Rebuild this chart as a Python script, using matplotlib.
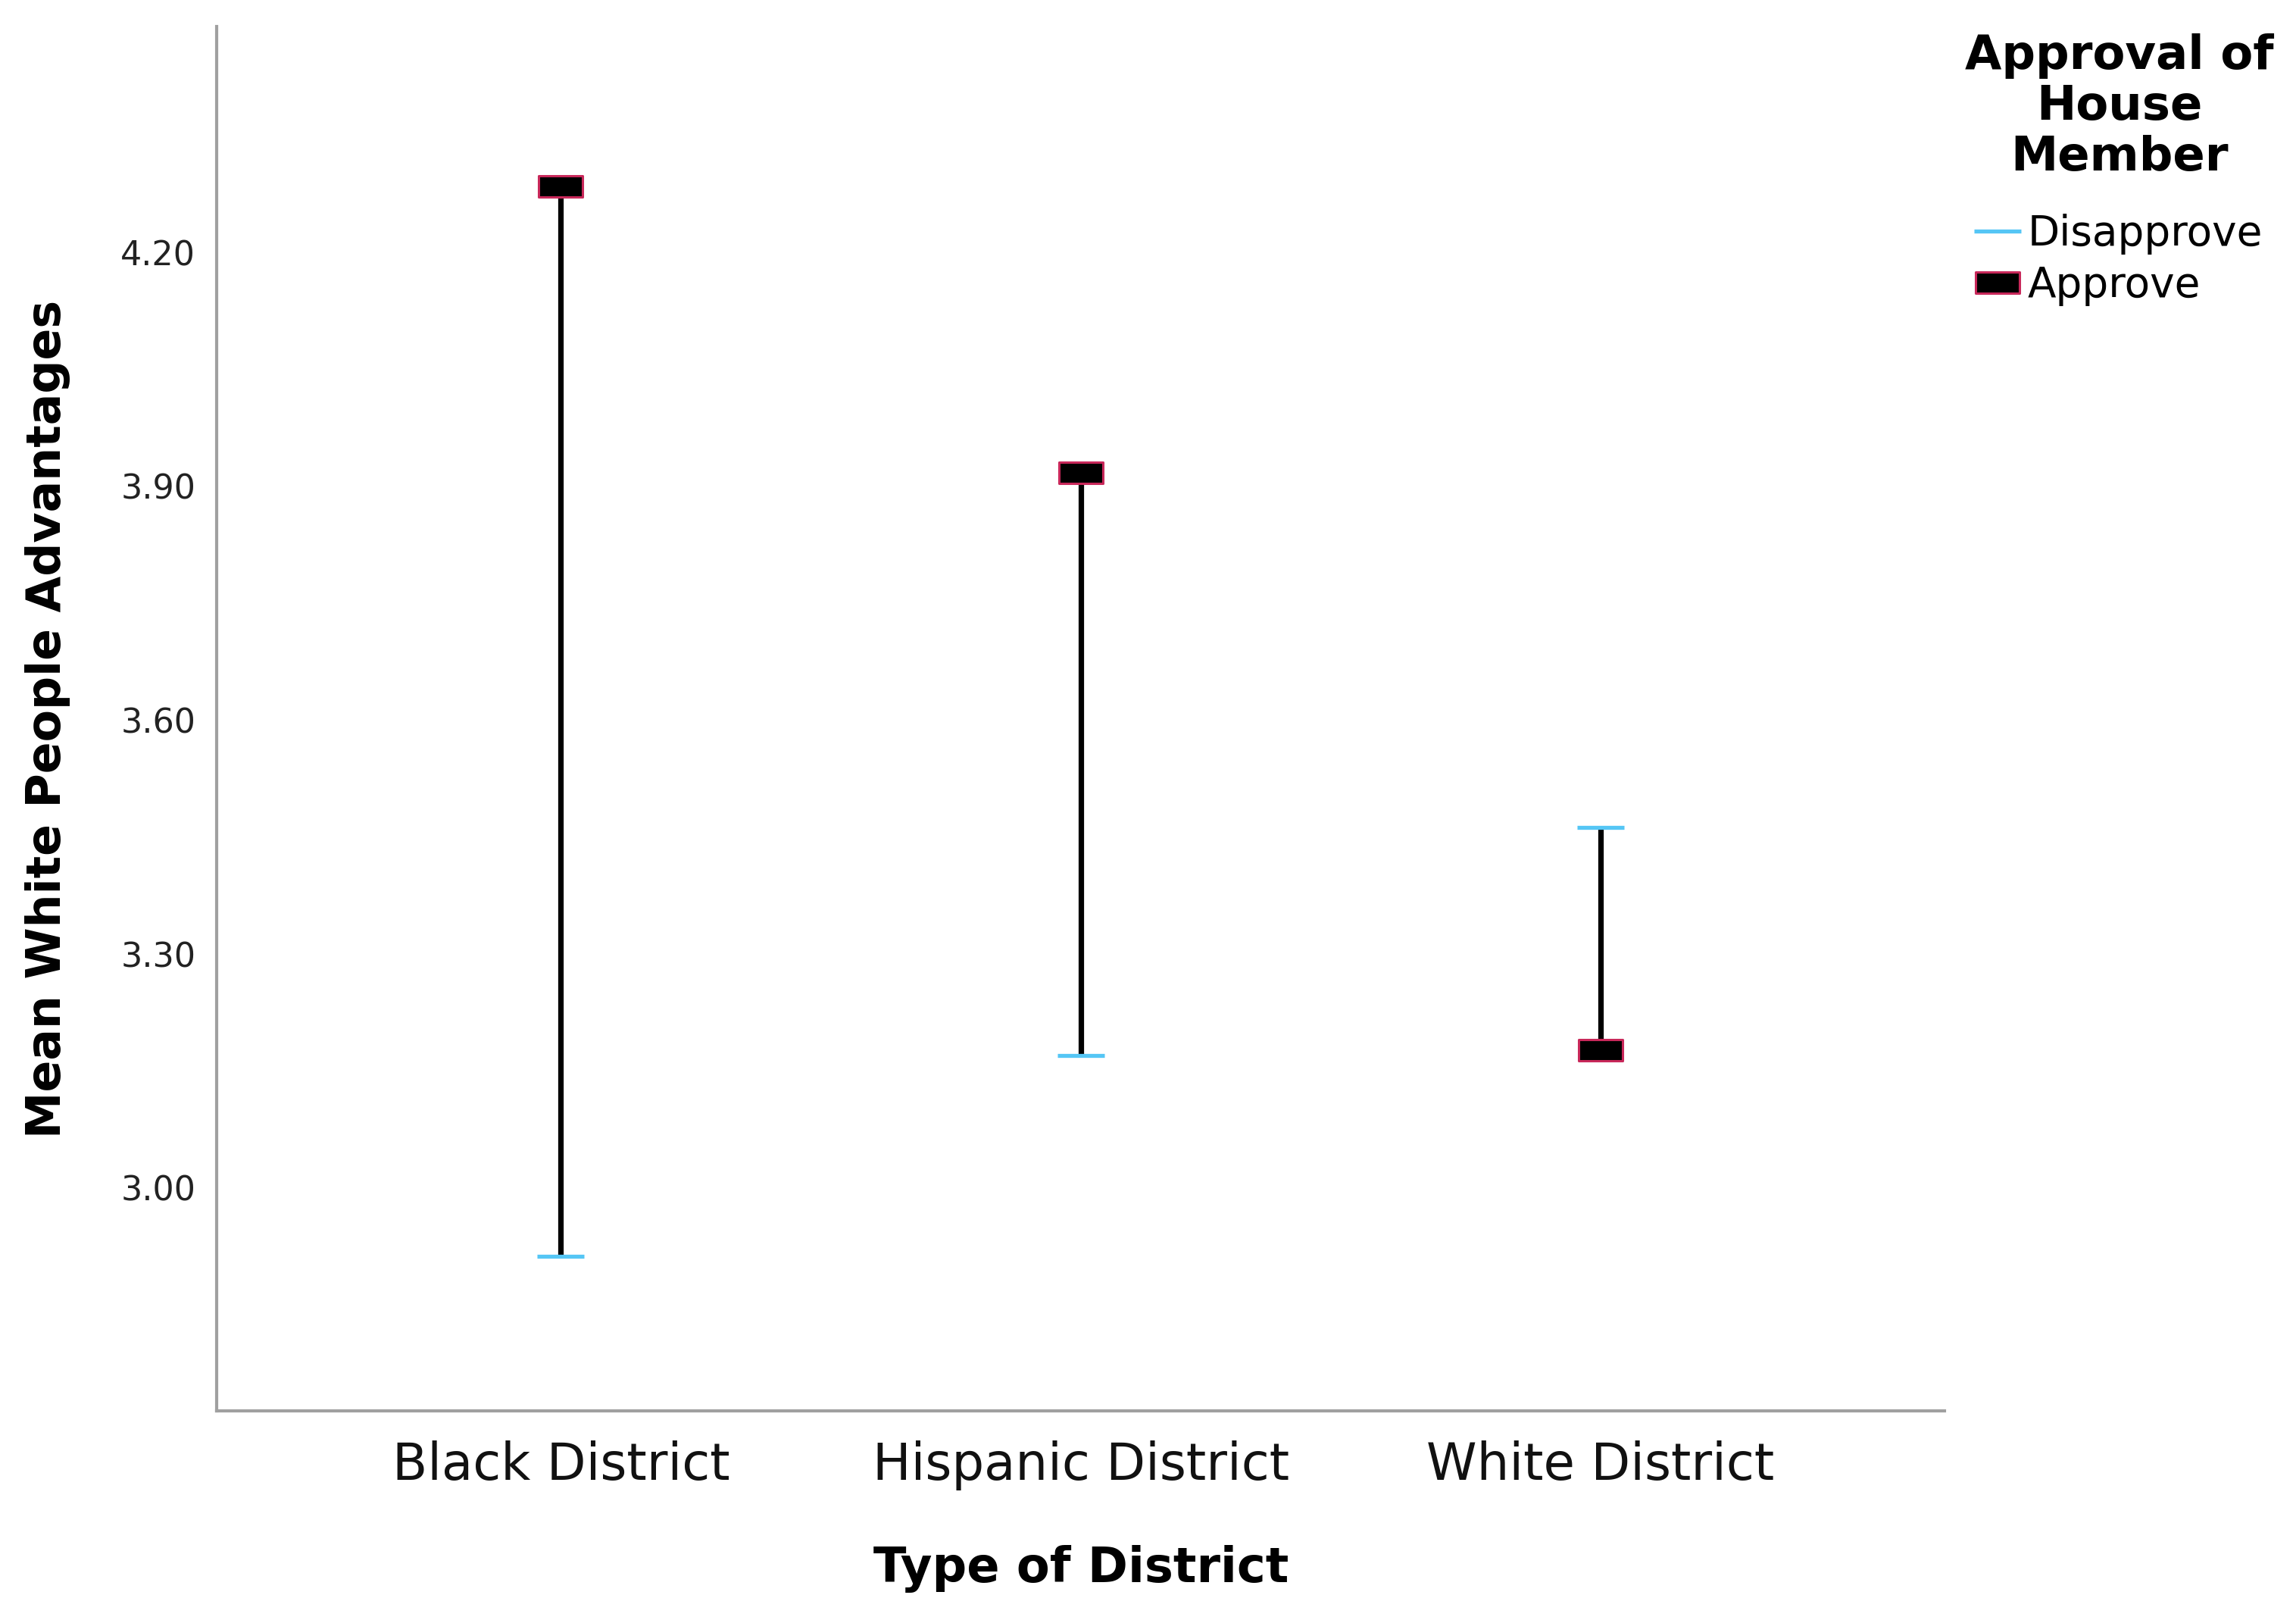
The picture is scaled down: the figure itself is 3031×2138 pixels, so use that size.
import matplotlib
matplotlib.use("Agg")
import matplotlib.pyplot as plt
from matplotlib.path import Path

districts = ["Black District", "Hispanic District", "White District"]
disapprove = [2.912, 3.170, 3.463]
approve = [4.285, 3.917, 3.177]
yticks = [3.00, 3.30, 3.60, 3.90, 4.20]
series_names = ["Disapprove", "Approve"]
legend_title = "Approval of\nHouse\nMember"

plt.rcParams['font.family'] = ['DejaVu Sans']

fig = plt.figure(figsize=(30.31, 21.38), dpi=100)
ax = fig.add_axes([0.0944, 0.1291, 0.7526, 0.8545])

x = list(range(len(districts)))
rect = Path([(-1, -0.48), (1, -0.48), (1, 0.48), (-1, 0.48), (-1, -0.48)],
            [Path.MOVETO, Path.LINETO, Path.LINETO, Path.LINETO, Path.CLOSEPOLY])

ax.vlines(x, disapprove, approve, color="black", linewidth=5.2, zorder=2)
ax.plot(x, disapprove, linestyle="none", marker="_", markersize=44,
        markeredgewidth=3.8, color="#55c6f5", zorder=3, label=series_names[0])
ax.plot(x, approve, linestyle="none", marker=rect, markersize=42,
        markerfacecolor="black", markeredgecolor="#c8285a", markeredgewidth=2.2,
        zorder=4, label=series_names[1])

ax.set_xlim(-0.662, 2.662)
ax.set_ylim(2.714, 4.49)
ax.set_yticks(yticks)
ax.set_yticklabels([f"{v:.2f}" for v in yticks])
ax.set_xticks(x)
ax.set_xticklabels(districts)
ax.tick_params(axis="y", length=0, pad=20, labelsize=32, labelcolor="#222222")
ax.tick_params(axis="x", length=0, pad=28, labelsize=48.5, labelcolor="#111111")

for s in ["top", "right"]:
    ax.spines[s].set_visible(False)
for s in ["left", "bottom"]:
    ax.spines[s].set_color("#a0a0a0")
    ax.spines[s].set_linewidth(3)

ax.set_xlabel("Type of District", fontsize=46, fontweight="bold", labelpad=52)
ax.set_ylabel("Mean White People Advantages", fontsize=44.5, fontweight="bold", labelpad=48)

leg = fig.legend(loc="upper left", bbox_to_anchor=(0.845, 0.995), frameon=False,
                 title=legend_title, fontsize=39.5, numpoints=1,
                 handlelength=1.05, handletextpad=0.2, labelspacing=0.25,
                 borderpad=0.1)
t = leg.get_title()
t.set_fontsize(45)
t.set_fontweight("bold")
t.set_linespacing(1.15)
t.set_multialignment("center")
leg._legend_box.sep = 32

fig.savefig("out.png", dpi=100, facecolor="white")
